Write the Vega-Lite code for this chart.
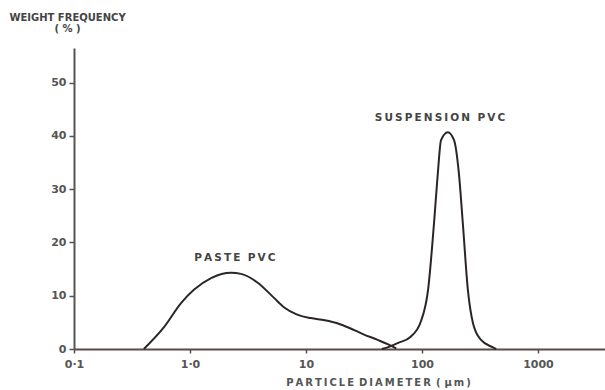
{
  "$schema": "https://vega.github.io/schema/vega-lite/v6.json",
  "width": 531,
  "height": 301,
  "autosize": {"type": "none"},
  "padding": {"left": 74, "top": 48, "right": 0, "bottom": 41},
  "background": "white",
  "config": {"view": {"stroke": null}, "font": "DejaVu Sans"},
  "datasets": {
    "curves": [
      {"series": "paste", "d": 0.40, "v": 0},
      {"series": "paste", "d": 0.597, "v": 4.1},
      {"series": "paste", "d": 0.837, "v": 8.6},
      {"series": "paste", "d": 1.08, "v": 11.1},
      {"series": "paste", "d": 1.52, "v": 13.3},
      {"series": "paste", "d": 2.26, "v": 14.3},
      {"series": "paste", "d": 2.75, "v": 14.1},
      {"series": "paste", "d": 3.86, "v": 12.4},
      {"series": "paste", "d": 5.3, "v": 9.6},
      {"series": "paste", "d": 6.5, "v": 7.8},
      {"series": "paste", "d": 8.3, "v": 6.5},
      {"series": "paste", "d": 11.0, "v": 5.8},
      {"series": "paste", "d": 14.5, "v": 5.4},
      {"series": "paste", "d": 18.9, "v": 4.8},
      {"series": "paste", "d": 24.0, "v": 3.9},
      {"series": "paste", "d": 31.0, "v": 2.8},
      {"series": "paste", "d": 41.5, "v": 1.7},
      {"series": "paste", "d": 50.6, "v": 0.9},
      {"series": "paste", "d": 60.0, "v": 0.1},
      {"series": "susp", "d": 45, "v": 0},
      {"series": "susp", "d": 52, "v": 0.4},
      {"series": "susp", "d": 61.7, "v": 1.1},
      {"series": "susp", "d": 80, "v": 2.3},
      {"series": "susp", "d": 98, "v": 5.2},
      {"series": "susp", "d": 113, "v": 11.2},
      {"series": "susp", "d": 127, "v": 23.6},
      {"series": "susp", "d": 137, "v": 33},
      {"series": "susp", "d": 146, "v": 39.2},
      {"series": "susp", "d": 167, "v": 40.7},
      {"series": "susp", "d": 189, "v": 39.2},
      {"series": "susp", "d": 208, "v": 33},
      {"series": "susp", "d": 225, "v": 23.6},
      {"series": "susp", "d": 249, "v": 11},
      {"series": "susp", "d": 275, "v": 4.9},
      {"series": "susp", "d": 323, "v": 1.7},
      {"series": "susp", "d": 409, "v": 0.3},
      {"series": "susp", "d": 437, "v": 0}
    ],
    "labels": [
      {"label": "P\u2009A\u2009S\u2009T\u2009E\u2002\u2009P\u2009V\u2009C", "d": 2.44, "v": 17.1},
      {"label": "S\u2009U\u2009S\u2009P\u2009E\u2009N\u2009S\u2009I\u2009O\u2009N\u2002\u2009P\u2009V\u2009C", "d": 143, "v": 43.3}
    ]
  },
  "encoding": {
    "x": {
      "field": "d",
      "type": "quantitative",
      "scale": {"type": "log", "domain": [0.1, 3784], "nice": false},
      "axis": {
        "values": [0.1, 1, 10, 100, 1000],
        "labelExpr": "datum.value == 0.1 ? '0·1' : datum.value == 1 ? '1·0' : format(datum.value, 'd')",
        "grid": false,
        "domainColor": "#5b4a46",
        "domainWidth": 2,
        "tickColor": "#5b4a46",
        "tickSize": 4,
        "tickWidth": 1.5,
        "labelFont": "DejaVu Sans",
        "labelFontSize": 11,
        "labelFontWeight": "bold",
        "labelColor": "#555",
        "labelPadding": 5,
        "labelFlush": false,
        "title": "P\u2009A\u2009R\u2009T\u2009I\u2009C\u2009L\u2009E\u2002D\u2009I\u2009A\u2009M\u2009E\u2009T\u2009E\u2009R\u2002(\u2009\u2009µ\u2009m\u2009)",
        "titleFont": "DejaVu Sans",
        "titleFontSize": 10,
        "titleFontWeight": "bold",
        "titleColor": "#555",
        "titleAnchor": "start",
        "titleAlign": "center",
        "titleX": 304,
        "titleY": 33,
        "titleBaseline": "middle"
      }
    },
    "y": {
      "field": "v",
      "type": "quantitative",
      "scale": {"domain": [0, 56.5], "nice": false},
      "axis": {
        "values": [0, 10, 20, 30, 40, 50],
        "grid": false,
        "domainColor": "#555",
        "domainWidth": 2,
        "tickColor": "#555",
        "tickSize": 5,
        "tickWidth": 1.5,
        "labelFont": "DejaVu Sans",
        "labelFontSize": 11,
        "labelFontWeight": "bold",
        "labelColor": "#555",
        "labelPadding": 3,
        "labelFlush": false,
        "title": ["WEIGHT FREQUENCY", "( % )"],
        "titleFont": "DejaVu Sans",
        "titleFontSize": 10,
        "titleFontWeight": "bold",
        "titleColor": "#444",
        "titleAngle": 0,
        "titleAlign": "center",
        "titleBaseline": "middle",
        "titleLineHeight": 11,
        "titleX": -7,
        "titleY": -31
      }
    }
  },
  "layer": [
    {
      "data": {"name": "curves"},
      "mark": {"type": "line", "interpolate": "monotone", "color": "#2b2624", "strokeWidth": 2},
      "encoding": {"detail": {"field": "series"}}
    },
    {
      "data": {"name": "labels"},
      "mark": {"type": "text", "font": "DejaVu Sans", "fontSize": 10.5, "fontWeight": "bold", "color": "#444", "align": "center", "baseline": "middle"},
      "encoding": {"text": {"field": "label"}}
    }
  ]
}
